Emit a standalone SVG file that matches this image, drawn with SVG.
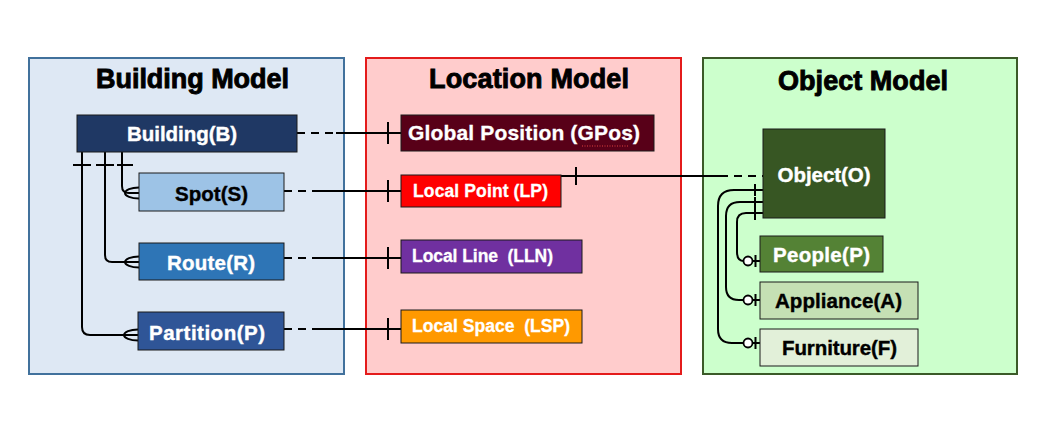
<svg xmlns="http://www.w3.org/2000/svg" width="1064" height="442" viewBox="0 0 1064 442">
<defs>
<style>
.title{font-family:"Liberation Sans",Arial,sans-serif;font-weight:bold;font-size:27px;fill:#000;stroke:#000;stroke-width:0.9px;text-anchor:middle}
.lbl{font-family:"Liberation Sans",Arial,sans-serif;font-weight:bold;font-size:20.5px;text-anchor:middle;stroke-width:0.4px}
.sm{font-family:"Liberation Sans",Arial,sans-serif;font-weight:bold;font-size:17.5px;fill:#fff;stroke:#fff;stroke-width:0.3px}
.big{font-size:21px}
.w{fill:#fff;stroke:#fff}
.k{fill:#000;stroke:#000}
.node{stroke:#1a1a1a;stroke-width:1}
.ln{fill:none;stroke:#000;stroke-width:2}
.dash{fill:none;stroke:#000;stroke-width:2;stroke-dasharray:8 6}
.circ{fill:#fff;stroke:#000;stroke-width:1.8}
</style>
</defs>
<rect width="1064" height="442" fill="#fff"/>

<g id="building-model">
<rect x="29" y="58" width="315" height="316" fill="#dee8f4" stroke="#41719c" stroke-width="2"/>
<text class="title" x="192.5" y="88" textLength="193">Building Model</text>
</g>
<g id="location-model">
<rect x="366" y="58" width="315" height="316" fill="#ffcccc" stroke="#e41b1b" stroke-width="2"/>
<text class="title" x="529" y="88" textLength="200">Location Model</text>
</g>
<g id="object-model">
<rect x="703" y="58" width="314" height="316" fill="#ccffcc" stroke="#3b5a28" stroke-width="2"/>
<text class="title" x="863" y="90" textLength="170">Object Model</text>
</g>

<g id="connectors">
<path class="dash" d="M297 133H336"/>
<path class="ln" d="M336 133H401M388 122V144"/>
<path class="dash" d="M284 191H316"/>
<path class="ln" d="M316 191H401M388 180V202"/>
<path class="dash" d="M284 258H313"/>
<path class="ln" d="M313 258H401M388 247V269"/>
<path class="dash" d="M284 329H312"/>
<path class="ln" d="M312 329H401M388 318V340"/>
<path class="ln" d="M561 176H720M576 167V185"/>
<path class="dash" d="M720 176H763"/>
<path class="ln" d="M73 165H91M96 165H114M117 165H133"/>
<path class="ln" d="M122 152V186Q122 193 129 193H139"/>
<path class="ln" d="M139 187.5C131 187.5 125 190 125 193C125 196 131 198.5 139 198.5"/>
<path class="ln" d="M105 152V255Q105 262 112 262H139"/>
<path class="ln" d="M139 256.5C131 256.5 125 259 125 262C125 265 131 267.5 139 267.5"/>
<path class="ln" d="M82 152V327Q82 335 90 335H138"/>
<path class="ln" d="M138 329.5C130 329.5 124 332 124 335C124 338 130 340.5 138 340.5"/>
<path class="ln" d="M755 184V196M755 197V208M755 208V220"/>
<path class="ln" d="M763 190H734Q718 190 718 206V329Q718 343 732 343H743.5"/>
<path class="ln" d="M763 202H740Q726 202 726 216V287Q726 300 739 300H743.5"/>
<path class="ln" d="M763 213H746Q737 213 737 222V252Q737 261 744 261"/>
<path class="ln" d="M752.5 261H760M755.5 255V267"/>
<path class="ln" d="M752.5 300H760M755.5 294V306"/>
<path class="ln" d="M752.5 343H760M755.5 337V349"/>
<circle class="circ" cx="748" cy="261" r="4.5"/>
<circle class="circ" cx="748" cy="300" r="4.5"/>
<circle class="circ" cx="748" cy="343" r="4.5"/>
</g>

<g id="building">
<rect class="node" x="77" y="115" width="220" height="37" fill="#1f3864"/>
<text class="lbl w" x="182" y="141" textLength="110">Building(B)</text>
</g>
<g id="spot">
<rect class="node" x="139" y="173" width="145" height="38" fill="#9dc3e6"/>
<text class="lbl k" x="211.5" y="201" textLength="73">Spot(S)</text>
</g>
<g id="route">
<rect class="node" x="139" y="243" width="145" height="37" fill="#2e75b6"/>
<text class="lbl w" x="211" y="270" textLength="88">Route(R)</text>
</g>
<g id="partition">
<rect class="node" x="138" y="312" width="146" height="38" fill="#2f5597"/>
<text class="lbl w" x="207" y="340" textLength="116">Partition(P)</text>
</g>

<g id="gpos">
<rect class="node" x="401" y="115" width="253" height="36" fill="#580018"/>
<text class="sm big" x="408" y="140" textLength="232">Global Position (GPos)</text>
<path d="M582 146H628" stroke="#e04040" stroke-width="1" stroke-dasharray="1 1.5" fill="none"/>
</g>
<g id="lp">
<rect class="node" x="401" y="175" width="160" height="32" fill="#ff0000"/>
<text class="sm" x="413" y="197" textLength="135">Local Point (LP)</text>
</g>
<g id="lln">
<rect class="node" x="401" y="240" width="181" height="33" fill="#7030a0"/>
<text class="sm" x="412" y="262" textLength="141" xml:space="preserve">Local Line  (LLN)</text>
</g>
<g id="lsp">
<rect class="node" x="401" y="310" width="181" height="33" fill="#ff9900"/>
<text class="sm" x="412" y="332" textLength="158" xml:space="preserve">Local Space  (LSP)</text>
</g>

<g id="object">
<rect class="node" x="763" y="129" width="122" height="89" fill="#375623"/>
<text class="lbl w" x="824" y="182" textLength="93">Object(O)</text>
</g>
<g id="people">
<rect class="node" x="760" y="236" width="123" height="36" fill="#548235"/>
<text class="lbl w" x="821.5" y="262" textLength="97">People(P)</text>
</g>
<g id="appliance">
<rect class="node" x="760" y="282" width="158" height="37" fill="#c5e0b4"/>
<text class="lbl k" x="838.5" y="308" textLength="127">Appliance(A)</text>
</g>
<g id="furniture">
<rect class="node" x="760" y="329" width="158" height="37" fill="#e2f0d9"/>
<text class="lbl k" x="839.5" y="355" textLength="115">Furniture(F)</text>
</g>
</svg>
